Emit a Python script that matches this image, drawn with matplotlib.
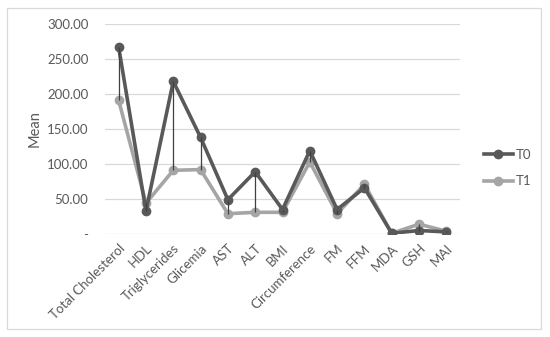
import matplotlib.pyplot as plt

# data
categories = ["Total Cholesterol", "HDL", "Triglycerides", "Glicemia", "AST", "ALT", "BMI",
              "Circumference", "FM", "FFM", "MDA", "GSH", "MAI"]
t0 = [267, 33, 218, 138, 49, 89, 35, 119, 35, 66, 1, 5, 3]
t1 = [191, 44, 91, 92, 29, 31, 31, 103, 29, 71, 1, 14, 4]
yticks = [0, 50, 100, 150, 200, 250, 300]
ytick_labels = ["-", "50.00", "100.00", "150.00", "200.00", "250.00", "300.00"]

plt.rcParams['font.family'] = ['Lato', 'DejaVu Sans']

fig = plt.figure(figsize=(5.5, 3.37), dpi=100)
ax = fig.add_axes([105 / 550, 1 - 234 / 337, 355 / 550, 210 / 337])

x = list(range(len(categories)))

# high-low lines between the two series
ax.vlines(x, [min(a, b) for a, b in zip(t0, t1)], [max(a, b) for a, b in zip(t0, t1)],
          color="#404040", lw=0.9, zorder=4)

ax.plot(x, t1, color="#A5A5A5", lw=2.6, marker="o", ms=6, label="T1", zorder=2)
ax.plot(x, t0, color="#595959", lw=2.6, marker="o", ms=6, label="T0", zorder=3)

ax.set_xlim(-0.5, len(categories) - 0.5)
ax.set_ylim(0, 300)
ax.set_yticks(yticks)
ax.set_yticklabels(ytick_labels)
ax.set_xticks(x)
ax.set_xticklabels(categories, rotation=45, ha="right", rotation_mode="anchor")
ax.tick_params(length=0, colors="#595959", labelsize=9.5)
ax.tick_params(axis="y", pad=12)
ax.tick_params(axis="x", pad=6)
ax.grid(axis="y", color="#D9D9D9", lw=0.9)
ax.set_axisbelow(True)
for s in ax.spines.values():
    s.set_visible(False)
ax.set_ylabel("Mean", color="#595959", fontsize=10.5, labelpad=4)

handles, labels = ax.get_legend_handles_labels()
fig.legend(handles[::-1], labels[::-1], loc="center left", bbox_to_anchor=(472 / 550, 1 - 168 / 337),
           frameon=False, fontsize=9.5, labelcolor="#595959", handlelength=2.2,
           handletextpad=0.2, labelspacing=1.1)

# light border round the chart
border = plt.Rectangle((7 / 550, 1 - 329 / 337), 534 / 550, 321 / 337, transform=fig.transFigure,
                       fill=False, edgecolor="#D9D9D9", lw=0.9)
fig.patches.append(border)

plt.savefig("out.png", dpi=100)
